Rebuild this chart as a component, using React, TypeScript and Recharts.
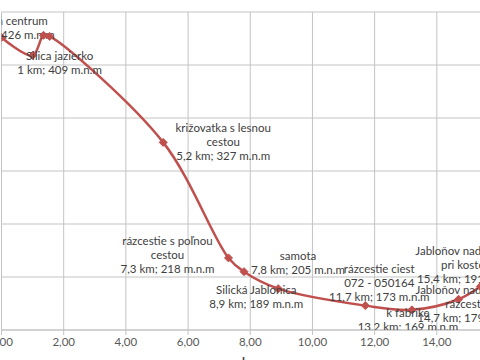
import React from 'react';
import { LineChart, Line, XAxis, YAxis, CartesianGrid, Label } from 'recharts';

const distanceKm = [0, 1, 1.35, 1.55, 5.2, 7.3, 7.8, 8.9, 11.7, 13.2, 14.7, 15.4];
const elevation = [426, 409, 428, 427, 327, 218, 205, 189, 173, 169, 179, 191];
const pointLabels = [
  'Silica centrum\n0 km; 426 m.n.m',
  'Silica jazierko\n1 km; 409 m.n.m',
  '',
  '',
  'križovatka s lesnou\ncestou\n5,2 km; 327 m.n.m',
  'rázcestie s poľnou\ncestou\n7,3 km; 218 m.n.m',
  'samota\n7,8 km; 205 m.n.m',
  'Silická Jablonica\n8,9 km; 189 m.n.m',
  'rázcestie ciest\n072 - 050164\n11,7 km; 173 m.n.m',
  'k fabrike\n13,2 km; 169 m.n.m',
  'Jabloňov nad Turňou\nrázcestie\n14,7 km; 179 m.n.m',
  'Jabloňov nad Turňou\npri kostole\n15,4 km; 191 m.n.m',
];
const xTicks = [0, 2, 4, 6, 8, 10, 12, 14, 16];
const yTicks = [150, 200, 250, 300, 350, 400, 450];

// label placement relative to the marker: [dx, dy of first line]
const LABEL_OFFSETS: [number, number][] = [
  [11, -17], [27, 0], [0, 0], [0, 0], [60, -15], [-61, -17],
  [54, -16], [-22, 1], [14, -37], [-4, 3], [9, -10], [-13, -36],
];

const data = distanceKm.map((km, i) => ({ km, elev: elevation[i], label: pointLabels[i] }));

const RED = '#C0504D';
const GRID = '#c3c3c3';
const FONT = 'Lato, "Open Sans", sans-serif';

// smoothed line (centripetal Catmull-Rom as Bezier segments)
function smoothCurve(context: any) {
  let pts: [number, number][] = [];
  const alpha = 0.5;
  const dist = (a: [number, number], b: [number, number]) => Math.hypot(b[0] - a[0], b[1] - a[1]);
  return {
    areaStart() {},
    areaEnd() {},
    lineStart() { pts = []; },
    point(x: number, y: number) { pts.push([+x, +y]); },
    lineEnd() {
      if (!pts.length) return;
      context.moveTo(pts[0][0], pts[0][1]);
      for (let i = 0; i < pts.length - 1; i++) {
        const p0 = pts[Math.max(0, i - 1)];
        const p1 = pts[i];
        const p2 = pts[i + 1];
        const p3 = pts[Math.min(pts.length - 1, i + 2)];
        const l01 = Math.pow(dist(p0, p1), alpha);
        const l12 = Math.pow(dist(p1, p2), alpha);
        const l23 = Math.pow(dist(p2, p3), alpha);
        const l01_2 = l01 * l01, l12_2 = l12 * l12, l23_2 = l23 * l23;
        let c1x = p1[0], c1y = p1[1], c2x = p2[0], c2y = p2[1];
        if (l01 > 1e-6) {
          const a = 2 * l01_2 + 3 * l01 * l12 + l12_2;
          const n = 3 * l01 * (l01 + l12);
          c1x = (p1[0] * a - p0[0] * l12_2 + p2[0] * l01_2) / n;
          c1y = (p1[1] * a - p0[1] * l12_2 + p2[1] * l01_2) / n;
        }
        if (l23 > 1e-6) {
          const b = 2 * l23_2 + 3 * l23 * l12 + l12_2;
          const m = 3 * l23 * (l23 + l12);
          c2x = (p2[0] * b + p1[0] * l23_2 - p3[0] * l12_2) / m;
          c2y = (p2[1] * b + p1[1] * l23_2 - p3[1] * l12_2) / m;
        }
        context.bezierCurveTo(c1x, c1y, c2x, c2y, p2[0], p2[1]);
      }
    },
  };
}

const Marker = (props: any) => {
  const { cx, cy, index, payload } = props;
  if (cx == null || cy == null) return <g key={`m${index}`} />;
  const s = 4;
  const lines: string[] = payload.label ? payload.label.split('\n') : [];
  const [dx, dy] = LABEL_OFFSETS[index] || [0, 0];
  return (
    <g key={`m${index}`}>
      <path d={`M${cx},${cy - s}L${cx + s},${cy}L${cx},${cy + s}L${cx - s},${cy}Z`} fill={RED} stroke={RED} strokeWidth={1} />
      {lines.map((t, k) => (
        <text
          key={k}
          x={cx + dx}
          y={cy + dy + k * 14}
          textAnchor="middle"
          dominantBaseline="central"
          fontFamily={FONT}
          fontSize={11.5}
          fill="#404040"
        >
          {t}
        </text>
      ))}
    </g>
  );
};

export default function App() {
  return (
    <div style={{ position: 'fixed', left: 0, top: 0, width: 480, height: 360, overflow: 'hidden', background: '#fff' }}>
      <LineChart width={520} height={380} data={data} margin={{ top: 12, right: 21, bottom: 0, left: 1.5 }}>
        <CartesianGrid stroke={GRID} strokeWidth={1} />
        <XAxis
          type="number"
          dataKey="km"
          domain={[0, 16]}
          ticks={xTicks}
          interval={0}
          allowDataOverflow
          height={50}
          tickFormatter={(v: number) => v.toFixed(2).replace('.', ',')}
          tick={{ fill: '#595959', fontSize: 11.5, fontFamily: FONT }}
          axisLine={{ stroke: GRID }}
          tickLine={{ stroke: GRID }}
          tickSize={5}
          tickMargin={3}
        >
          <Label value="km" position="insideBottom" offset={14} fill="#404040" fontSize={12} fontWeight="bold" fontFamily={FONT} />
        </XAxis>
        <YAxis type="number" hide domain={[150, 450]} ticks={yTicks} allowDataOverflow />
        <Line
          type={smoothCurve as any}
          dataKey="elev"
          stroke={RED}
          strokeWidth={2.5}
          dot={<Marker />}
          activeDot={false}
          isAnimationActive={false}
        />
      </LineChart>
    </div>
  );
}
